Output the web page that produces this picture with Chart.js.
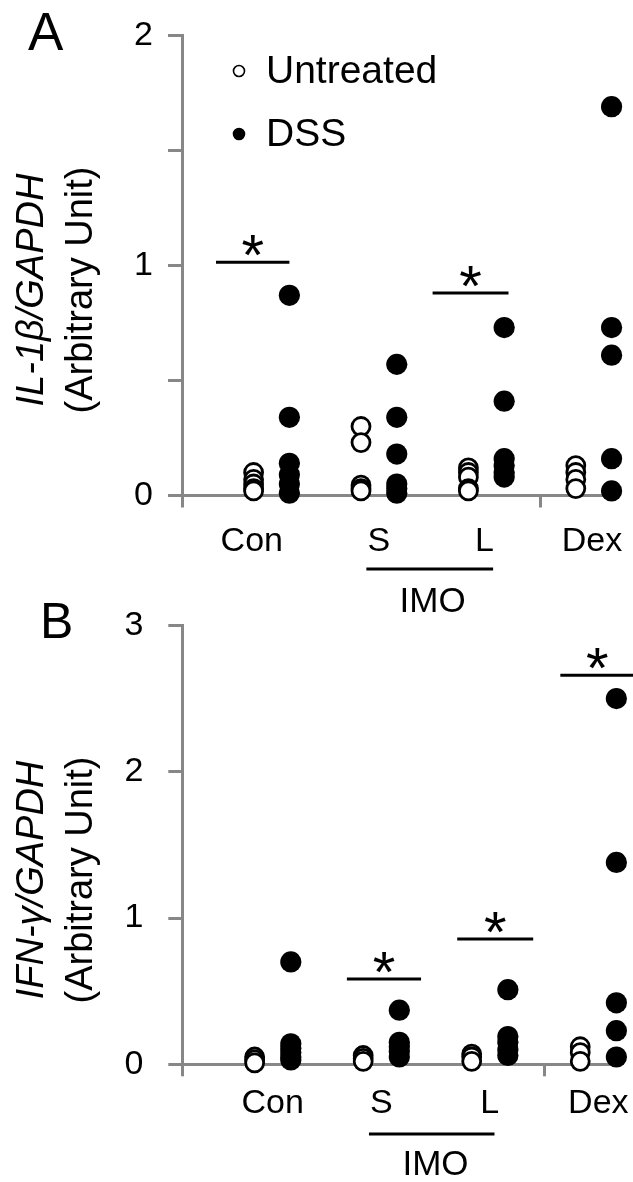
<!DOCTYPE html>
<html><head><meta charset="utf-8">
<script src="https://cdn.jsdelivr.net/npm/chart.js@4.4.1/dist/chart.umd.min.js"></script>
<style>
html,body{margin:0;padding:0;background:#fff;width:633px;height:1182px;overflow:hidden}
.panel{position:absolute;left:0;width:633px}
#wrapA{top:0;height:630px}
#wrapB{top:580px;height:602px}
canvas{display:block}
</style></head><body>
<div class="panel" id="wrapA"><canvas id="chartA" width="633" height="630"></canvas></div>
<div class="panel" id="wrapB"><canvas id="chartB" width="633" height="602"></canvas></div>
<script>
// ---------- data ----------
const categories = ['Con', 'S', 'L', 'Dex'];
const untreatedX = [2, 5, 8, 11];
const dssX = [3, 6, 9, 12];
const xAxisMarks = [0, 10];
const catLabelXA = [1.95, 5.5, 8.45, 11.45];
const catLabelXB = [2.5, 5.5, 8.5, 11.5];
const yTicksA = [0, 0.5, 1, 1.5, 2];
const yTicksB = [0, 1, 2, 3];

const il1bUntreated = [
  [0.10, 0.07, 0.05, 0.03, 0.02],
  [0.30, 0.23, 0.045, 0.03, 0.02],
  [0.12, 0.10, 0.08, 0.03, 0.02],
  [0.13, 0.10, 0.07, 0.03]
];
const il1bDSS = [
  [0.87, 0.34, 0.14, 0.09, 0.05, 0.01],
  [0.57, 0.34, 0.18, 0.05, 0.03, 0.01],
  [0.73, 0.41, 0.16, 0.13, 0.10, 0.08],
  [1.69, 0.73, 0.61, 0.16, 0.02]
];
const ifngUntreated = [
  [0.05, 0.03, 0.01],
  [0.06, 0.04, 0.02],
  [0.07, 0.05, 0.02],
  [0.12, 0.08, 0.02]
];
const ifngDSS = [
  [0.70, 0.14, 0.11, 0.08, 0.05, 0.03],
  [0.37, 0.15, 0.12, 0.09, 0.05],
  [0.51, 0.19, 0.15, 0.10, 0.06],
  [2.50, 1.38, 0.42, 0.23, 0.05]
];
// significance bars (x range in axis units, y level in data units)
const sigA = [{from: 0.95, to: 3.0, y: 1.014}, {from: 7.0, to: 9.12, y: 0.88}];
const sigB = [{from: 4.55, to: 6.6, y: 0.583}, {from: 7.6, to: 9.7, y: 0.856}, {from: 10.45, to: 12.5, y: 2.66}];

// ---------- helpers ----------
const FONT = '"Liberation Sans", Arial, Helvetica, sans-serif';
const AXIS_GRAY = '#878787';

function toPoints(groups, xs) {
  const out = [];
  groups.forEach((vals, i) => vals.forEach(v => out.push({x: xs[i], y: v})));
  return out;
}

const decor = {
  id: 'decor',
  afterDraw(chart, args, o) {
    const ctx = chart.ctx;
    const xs = chart.scales.x, ys = chart.scales.y;
    ctx.save();
    ctx.fillStyle = '#000'; ctx.strokeStyle = '#000';
    // panel letter
    ctx.font = o.letter.size + 'px ' + FONT;
    ctx.textAlign = 'left'; ctx.textBaseline = 'alphabetic';
    ctx.fillText(o.letter.text, o.letter.x, o.letter.y);
    // y-axis title (two lines, first italic)
    ctx.save();
    ctx.translate(o.title.x, o.title.y);
    ctx.rotate(-Math.PI / 2);
    ctx.textAlign = 'center';
    ctx.font = 'italic ' + o.title.size + 'px ' + FONT;
    ctx.fillText(o.title.lines[0], 0, 0);
    ctx.font = o.title.size + 'px ' + FONT;
    ctx.fillText(o.title.lines[1], 0, o.title.gap);
    ctx.restore();
    // legend
    if (o.legend) {
      const L = o.legend;
      ctx.font = L.size + 'px ' + FONT;
      ctx.textBaseline = 'middle'; ctx.textAlign = 'left';
      chart.data.datasets.forEach((ds, i) => {
        const cy = L.y + i * L.gap;
        ctx.beginPath(); ctx.arc(L.x, cy, L.r, 0, Math.PI * 2);
        ctx.fillStyle = ds.pointBackgroundColor; ctx.fill();
        ctx.lineWidth = 1.6; ctx.strokeStyle = ds.pointBorderColor; ctx.stroke();
        ctx.fillStyle = '#000';
        ctx.fillText(ds.label, L.textX, cy + L.textDy);
      });
    }
    // significance bars
    ctx.lineWidth = 3; ctx.strokeStyle = '#000'; ctx.fillStyle = '#000';
    ctx.font = o.star.size + 'px ' + FONT; ctx.textAlign = 'center'; ctx.textBaseline = 'alphabetic';
    o.sig.forEach(s => {
      const x1 = xs.getPixelForValue(s.from), x2 = xs.getPixelForValue(s.to), py = ys.getPixelForValue(s.y);
      ctx.beginPath(); ctx.moveTo(x1, py); ctx.lineTo(x2, py); ctx.stroke();
      ctx.fillText('*', (x1 + x2) / 2, py + o.star.dy);
    });
    // IMO bracket
    const b = o.bracket;
    const base = ys.getPixelForValue(0);
    ctx.beginPath();
    ctx.moveTo(xs.getPixelForValue(b.from), base + b.lineDy);
    ctx.lineTo(xs.getPixelForValue(b.to), base + b.lineDy);
    ctx.stroke();
    ctx.font = b.size + 'px ' + FONT; ctx.textBaseline = 'middle';
    ctx.fillText(b.text, xs.getPixelForValue(b.at), base + b.textDy);
    ctx.restore();
  }
};

function buildChart(id, c) {
  const labelTicks = c.labelX;
  const allTicks = [...xAxisMarks, ...labelTicks, 12].sort((a, b) => a - b);
  return new Chart(document.getElementById(id), {
    type: 'scatter',
    plugins: [decor],
    data: {datasets: [
      {label: 'Untreated', data: toPoints(c.untreated, untreatedX), pointRadius: 9, pointHoverRadius: 9,
       pointBackgroundColor: '#ffffff', pointBorderColor: '#000000', pointBorderWidth: 2.8, clip: false},
      {label: 'DSS', data: toPoints(c.dss, dssX), pointRadius: 10.6, pointHoverRadius: 10.6,
       pointBackgroundColor: '#000000', pointBorderColor: '#000000', pointBorderWidth: 0, clip: false}
    ]},
    options: {
      responsive: false, animation: false, devicePixelRatio: 1,
      layout: {padding: {top: c.top, right: c.right, left: 0, bottom: 0}},
      plugins: {legend: {display: false}, tooltip: {enabled: false}, decor: c.decor},
      scales: {
        x: {
          type: 'linear', min: 0, max: 12,
          afterFit: s => { s.height = c.xHeight; },
          afterBuildTicks: s => { s.ticks = allTicks.map(v => ({value: v})); },
          border: {color: AXIS_GRAY, width: 3},
          grid: {drawOnChartArea: false, drawTicks: true, tickLength: 12, lineWidth: 3,
                 tickColor: ctx => (ctx.tick && xAxisMarks.includes(ctx.tick.value)) ? AXIS_GRAY : 'rgba(0,0,0,0)'},
          ticks: {autoSkip: false, maxRotation: 0, minRotation: 0, padding: c.xPad, color: '#000',
                  font: {family: FONT, size: 34},
                  callback: v => { const i = labelTicks.indexOf(v); return i >= 0 ? categories[i] : ''; }}
        },
        y: {
          type: 'linear', min: 0, max: c.yMax,
          afterFit: s => { s.width = c.yWidth; },
          afterBuildTicks: s => { s.ticks = c.yTicks.map(v => ({value: v})); },
          border: {color: AXIS_GRAY, width: 3},
          grid: {drawOnChartArea: false, drawTicks: true, tickLength: 14, lineWidth: 3, tickColor: AXIS_GRAY},
          ticks: {padding: c.yPad, color: '#000', font: {family: FONT, size: 34},
                  callback: v => Number.isInteger(v) ? String(v) : ''}
        }
      }
    }
  });
}

buildChart('chartA', {
  untreated: il1bUntreated, dss: il1bDSS, labelX: catLabelXA, yTicks: yTicksA, yMax: 2,
  top: 35, right: 21.4, xHeight: 134.5, yWidth: 182, xPad: 14, yPad: 15,
  decor: {
    letter: {text: 'A', x: 28, y: 50, size: 53},
    title: {lines: ['IL-1\u03B2/GAPDH', '(Arbitrary Unit)'], x: 43, y: 290, gap: 49, size: 38},
    legend: {x: 239, y: 71, gap: 63, r: 5.5, textX: 266, textDy: 1, size: 39},
    star: {size: 58, dy: 13},
    sig: sigA,
    bracket: {from: 5.15, to: 8.69, at: 7.0, lineDy: 73.5, textDy: 106.5, size: 35, text: 'IMO'}
  }
});

buildChart('chartB', {
  untreated: ifngUntreated, dss: ifngDSS, labelX: catLabelXB, yTicks: yTicksB, yMax: 3,
  top: 33.3, right: 16.6, xHeight: 117.7, yWidth: 182.3, xPad: 6.5, yPad: 25,
  decor: {
    letter: {text: 'B', x: 40, y: 58, size: 50},
    title: {lines: ['IFN-\u03B3/GAPDH', '(Arbitrary Unit)'], x: 43, y: 300, gap: 49, size: 38},
    legend: null,
    star: {size: 58, dy: 13},
    sig: sigB,
    bracket: {from: 5.16, to: 8.63, at: 7.0, lineDy: 69.7, textDy: 100.7, size: 35, text: 'IMO'}
  }
});
</script>
</body></html>
